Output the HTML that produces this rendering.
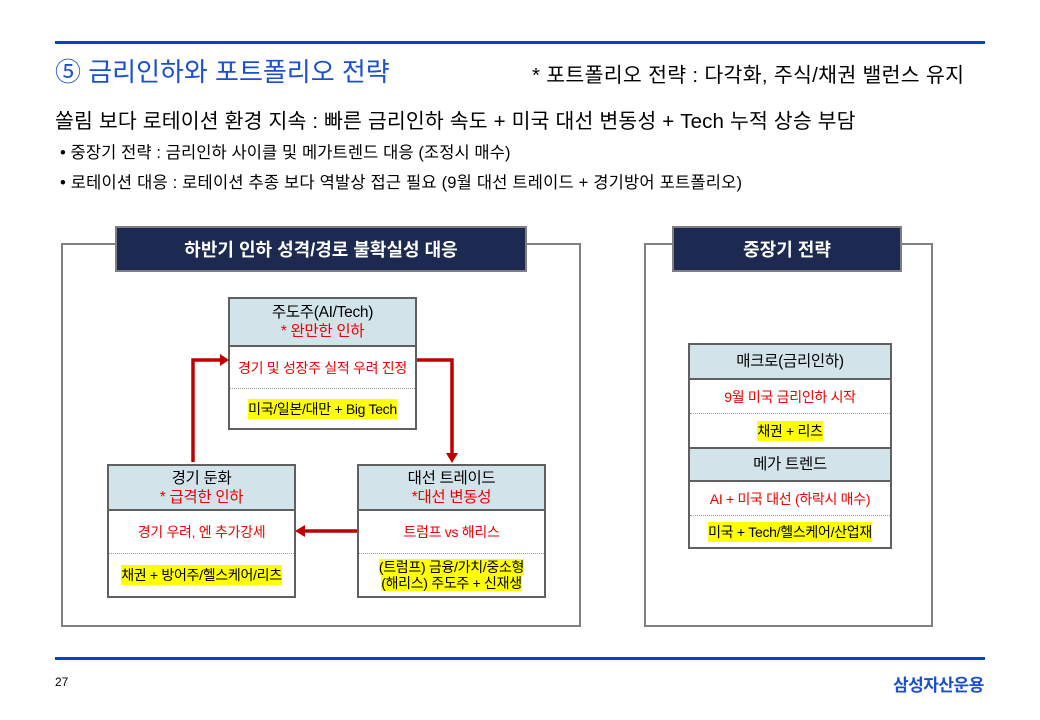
<!DOCTYPE html>
<html><head><meta charset="utf-8"><style>
body{margin:0;width:1040px;height:720px;background:#fff;position:relative;overflow:hidden;font-family:"Liberation Sans","Noto Sans CJK KR",sans-serif;}
.a{position:absolute;white-space:nowrap;}
.line{position:absolute;left:55px;width:930px;height:3px;background:#0a3fcf;}
.panel{position:absolute;border:2px solid #808080;box-sizing:border-box;}
.hdr{position:absolute;background:#1c2a52;border:2px solid #7f7f7f;box-sizing:border-box;color:#fff;font-weight:bold;font-size:18px;display:flex;align-items:center;justify-content:center;}
.node{position:absolute;border:2px solid #606060;box-sizing:border-box;background:#fff;font-size:14px;text-align:center;letter-spacing:-0.3px;}
.nh{background:#d2e4e9;border-bottom:2px solid #606060;box-sizing:border-box;display:flex;flex-direction:column;justify-content:center;font-size:15.5px;line-height:19px;}
.r{color:#f00000;}
.row{display:flex;align-items:center;justify-content:center;box-sizing:border-box;}
.dot{border-bottom:1px dotted #999;}
.y{background:#ffff00;}
</style></head><body>
<div class="line" style="top:41px"></div>
<div class="a" style="left:55px;top:52px;font-size:26px;color:#1a4fd0;">⑤ 금리인하와 포트폴리오 전략</div>
<div class="a" style="left:532px;top:58px;font-size:20.5px;letter-spacing:0.3px;">* 포트폴리오 전략 : 다각화, 주식/채권 밸런스 유지</div>
<div class="a" style="left:55px;top:104px;font-size:20.5px;letter-spacing:0.15px;">쏠림 보다 로테이션 환경 지속 : 빠른 금리인하 속도 + 미국 대선 변동성 + Tech 누적 상승 부담</div>
<div class="a" style="left:60px;top:139px;font-size:16.5px;letter-spacing:0.1px;">• 중장기 전략 : 금리인하 사이클 및 메가트렌드 대응 (조정시 매수)</div>
<div class="a" style="left:60px;top:169px;font-size:16.5px;letter-spacing:0.2px;">• 로테이션 대응 : 로테이션 추종 보다 역발상 접근 필요 (9월 대선 트레이드 + 경기방어 포트폴리오)</div>

<div class="panel" style="left:61px;top:243px;width:520px;height:384px"></div>
<div class="hdr" style="left:115px;top:226px;width:412px;height:46px">하반기 인하 성격/경로 불확실성 대응</div>
<div class="panel" style="left:644px;top:243px;width:289px;height:384px"></div>
<div class="hdr" style="left:672px;top:226px;width:230px;height:46px">중장기 전략</div>

<div class="node" style="left:228px;top:297px;width:189px;height:133px">
<div class="nh" style="height:48px">주도주(AI/Tech)<span class="r">* 완만한 인하</span></div>
<div class="row dot r" style="height:42px">경기 및 성장주 실적 우려 진정</div>
<div class="row" style="height:39px"><span class="y">미국/일본/대만 + Big Tech</span></div>
</div>
<div class="node" style="left:107px;top:464px;width:189px;height:134px">
<div class="nh" style="height:45px">경기 둔화<span class="r">* 급격한 인하</span></div>
<div class="row dot r" style="height:43px">경기 우려, 엔 추가강세</div>
<div class="row" style="height:42px"><span class="y">채권 + 방어주/헬스케어/리츠</span></div>
</div>
<div class="node" style="left:357px;top:464px;width:189px;height:134px">
<div class="nh" style="height:45px">대선 트레이드<span class="r">*대선 변동성</span></div>
<div class="row dot r" style="height:43px">트럼프 vs 해리스</div>
<div class="row" style="height:42px;flex-direction:column;line-height:16px"><span class="y">(트럼프) 금융/가치/중소형</span><span class="y">(해리스) 주도주 + 신재생</span></div>
</div>

<div class="node" style="left:688px;top:343px;width:204px;height:206px;font-size:14px">
<div class="nh" style="height:35px;font-size:15.5px">매크로(금리인하)</div>
<div class="row dot r" style="height:34px">9월 미국 금리인하 시작</div>
<div class="row" style="height:33px"><span class="y">채권 + 리츠</span></div>
<div class="nh" style="height:35px;font-size:15.5px;border-top:2px solid #606060">메가 트렌드</div>
<div class="row dot r" style="height:34px">AI + 미국 대선 (하락시 매수)</div>
<div class="row" style="height:31px"><span class="y">미국 + Tech/헬스케어/산업재</span></div>
</div>

<svg class="a" style="left:0;top:0" width="1040" height="720">
<g stroke="#c00000" stroke-width="3.5" fill="none">
<polyline points="193,462 193,360 222,360"/>
<polyline points="417,360 452,360 452,455"/>
<line x1="357" y1="531" x2="302" y2="531"/>
</g>
<g fill="#c00000">
<polygon points="229,360 220,354 220,366"/>
<polygon points="452,463 446,453 458,453"/>
<polygon points="295,531 305,525 305,537"/>
</g>
</svg>

<div class="line" style="top:657px"></div>
<div class="a" style="left:55px;top:675px;font-size:12px;">27</div>
<div class="a" style="left:893px;top:671px;font-size:17px;font-weight:bold;color:#1a4fd0;letter-spacing:-0.5px;">삼성자산운용</div>
</body></html>
